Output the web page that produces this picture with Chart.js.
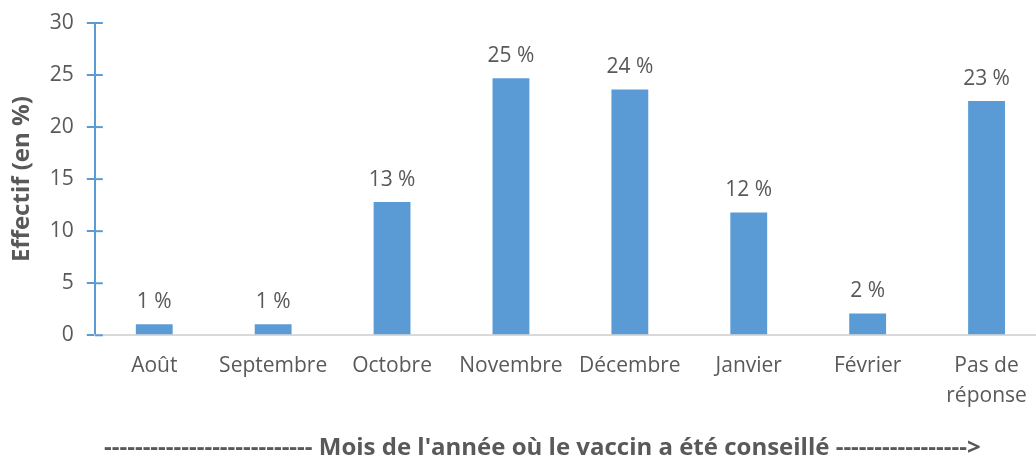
<!DOCTYPE html>
<html>
<head>
<meta charset="utf-8">
<script src="https://cdn.jsdelivr.net/npm/chart.js@4.4.1/dist/chart.umd.min.js"></script>
<style>
  html, body { margin: 0; padding: 0; background: #fff; overflow: hidden; }
  #wrap { width: 1046px; height: 459px; }
</style>
</head>
<body>
<div id="wrap"><canvas id="grafica_mois"></canvas></div>
<script>
const mois = ["Août", "Septembre", "Octobre", "Novembre", "Décembre", "Janvier", "Février", ["Pas de", "réponse"]];
const effectif = [1.05, 1.05, 12.8, 24.7, 23.6, 11.8, 2.1, 22.5];
const etiquettes = ["1 %", "1 %", "13 %", "25 %", "24 %", "12 %", "2 %", "23 %"];

const bleu = "#5B9BD5";
const gris = "#595959";
const police = "'Open Sans', 'Liberation Sans', sans-serif";

// valeurs au-dessus des barres
const etiquettesBarres = {
  id: "etiquettesBarres",
  afterDatasetsDraw(chart) {
    const ctx = chart.ctx;
    const meta = chart.getDatasetMeta(0);
    ctx.save();
    ctx.font = "21px " + police;
    ctx.fillStyle = gris;
    ctx.textAlign = "center";
    ctx.textBaseline = "bottom";
    meta.data.forEach((bar, i) => {
      ctx.fillText(etiquettes[i], bar.x, bar.y - 12);
    });
    ctx.restore();
  }
};

// graduations qui traversent l'axe vertical
const graduations = {
  id: "graduations",
  afterDraw(chart) {
    const y = chart.scales.y;
    const ctx = chart.ctx;
    ctx.save();
    ctx.strokeStyle = bleu;
    ctx.lineWidth = 2;
    y.ticks.forEach(t => {
      const py = y.getPixelForValue(t.value);
      ctx.beginPath();
      ctx.moveTo(y.right, py);
      ctx.lineTo(y.right + 8, py);
      ctx.stroke();
    });
    ctx.restore();
  }
};

new Chart("grafica_mois", {
  type: "bar",
  data: {
    labels: mois,
    datasets: [{
      data: effectif,
      backgroundColor: bleu,
      barPercentage: 0.62,
      categoryPercentage: 0.5
    }]
  },
  plugins: [etiquettesBarres, graduations],
  options: {
    responsive: true,
    maintainAspectRatio: false,
    animation: false,
    layout: { padding: { top: 2, left: 8, right: 0, bottom: -4 } },
    plugins: {
      legend: { display: false },
      tooltip: { enabled: false }
    },
    scales: {
      y: {
        min: 0,
        max: 30,
        ticks: { stepSize: 5, color: gris, font: { size: 21, family: police, lineHeight: 0.95 }, padding: 13 },
        grid: { drawOnChartArea: false, drawTicks: true, tickLength: 8, color: bleu, lineWidth: 2 },
        border: { color: bleu, width: 2 },
        title: { display: true, text: "Effectif (en %)", color: gris, font: { size: 24, weight: "bold", family: police }, padding: 0 }
      },
      x: {
        ticks: { color: gris, font: { size: 21, family: police, lineHeight: 1.45 }, padding: 15 },
        grid: { display: false, drawTicks: false },
        border: { color: "#D9D9D9", width: 2 },
        title: {
          display: true,
          text: "--------------------------- Mois de l'année où le vaccin a été conseillé ----------------->         ",
          color: gris,
          font: { size: 24, weight: "bold", family: police },
          padding: { top: 8, bottom: 0 }
        }
      }
    }
  }
});
</script>
</body>
</html>
